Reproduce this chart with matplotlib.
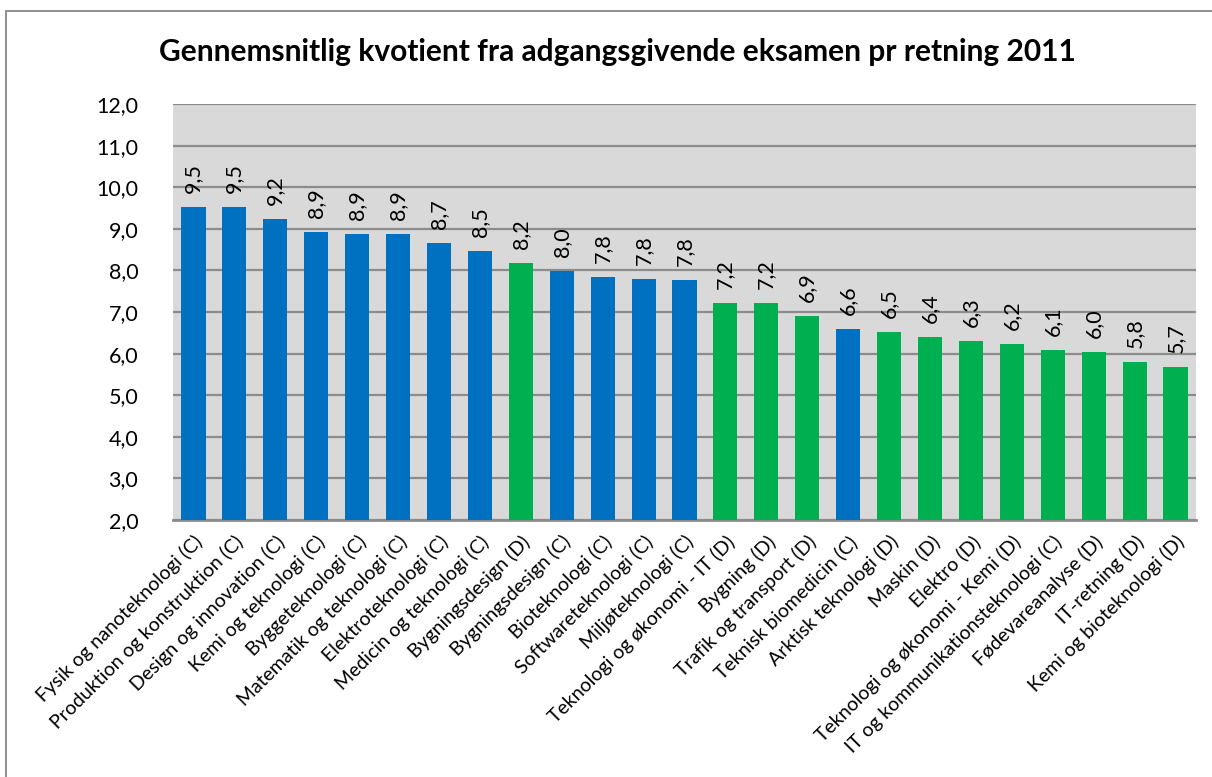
import matplotlib
matplotlib.use('Agg')
from matplotlib import pyplot as plt
from matplotlib.patches import Rectangle
import numpy as np

plt.rcParams['font.family'] = ['Lato', 'DejaVu Sans']

retninger = [
    'Fysik og nanoteknologi (C)', 'Produktion og konstruktion (C)',
    'Design og innovation (C)', 'Kemi og teknologi (C)', 'Byggeteknologi (C)',
    'Matematik og teknologi (C)', 'Elektroteknologi (C)',
    'Medicin og teknologi (C)', 'Bygningsdesign (D)', 'Bygningsdesign (C)',
    'Bioteknologi (C)', 'Softwareteknologi (C)', 'Miljøteknologi (C)',
    'Teknologi og økonomi - IT (D)', 'Bygning (D)', 'Trafik og transport (D)',
    'Teknisk biomedicin (C)', 'Arktisk teknologi (D)', 'Maskin (D)',
    'Elektro (D)', 'Teknologi og økonomi - Kemi (D)',
    'IT og kommunikationsteknologi (C)', 'Fødevareanalyse (D)',
    'IT-retning (D)', 'Kemi og bioteknologi (D)',
]
kvotient = [9.53, 9.53, 9.24, 8.92, 8.87, 8.87, 8.65, 8.46, 8.17, 7.98,
            7.83, 7.79, 7.76, 7.21, 7.21, 6.90, 6.58, 6.53, 6.39, 6.30,
            6.22, 6.08, 6.03, 5.79, 5.67]
# 'B' = blaa, 'G' = groen
farve_kode = ['B'] * 8 + ['G'] + ['B'] * 4 + ['G'] * 3 + ['B'] + ['G'] * 8

blue = '#0070C0'
green = '#00B050'
colors = [blue if f == 'B' else green for f in farve_kode]

fig = plt.figure(figsize=(12.12, 7.77), dpi=100)
W, H = 1212, 777
ax = fig.add_axes([173 / W, 1 - 520 / H, (1196 - 173) / W, (520 - 104) / H])

x = np.arange(len(kvotient))
ax.bar(x, kvotient, width=0.59, color=colors, bottom=0, zorder=3)
ax.set_xlim(-0.5, len(kvotient) - 0.5)
ax.set_ylim(2.0, 12.0)
ax.set_facecolor('#D9D9D9')

yt = np.arange(2, 13, 1)
ax.set_yticks(yt)
ax.set_yticklabels([('%.1f' % v).replace('.', ',') for v in yt], fontsize=15.5)
ax.tick_params(axis='y', length=0, pad=25)
ax.grid(axis='y', color='#8C8C8C', linewidth=1.6, zorder=1)

ax.set_xticks(x)
ax.set_xticklabels(retninger, rotation=45, ha='right', rotation_mode='anchor',
                   fontsize=14)
ax.tick_params(axis='x', length=0, pad=9)

for s in ['top', 'right', 'left']:
    ax.spines[s].set_visible(False)
ax.spines['bottom'].set_color('#8C8C8C')
ax.spines['bottom'].set_linewidth(2)

for xi, v in zip(x, kvotient):
    ax.annotate(('%.1f' % v).replace('.', ','), (xi, v), xytext=(0, 14),
                textcoords='offset pixels', rotation=90, ha='center',
                va='bottom', fontsize=15.5, zorder=4)

fig.text(617 / W, 1 - 52 / H,
         'Gennemsnitlig kvotient fra adgangsgivende eksamen pr retning 2011',
         ha='center', va='center', fontsize=21.5, fontweight='bold')

# ramme rundt om diagrammet
fig.patches.append(Rectangle((6 / W, -0.1), 1.2, 1 - 11 / H + 0.1,
                             transform=fig.transFigure, fill=False,
                             edgecolor='#868686', linewidth=1.3))

fig.savefig('out.png', dpi=100)
